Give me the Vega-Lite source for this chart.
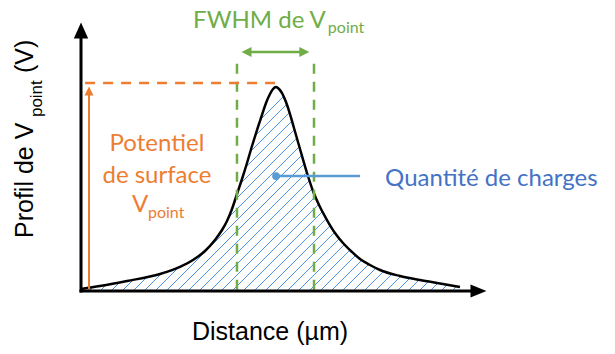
{
  "$schema": "https://vega.github.io/schema/vega-lite/v6.json",
  "width": 406,
  "height": 268,
  "autosize": {"type": "none"},
  "padding": {"left": 81, "top": 23, "right": 128, "bottom": 63},
  "background": "white",
  "config": {"view": {"stroke": null}},
  "datasets": {
    "curve": [
      {"x": 0, "y": 0.75}, {"x": 4.68, "y": 1.87}, {"x": 11.33, "y": 3.73}, {"x": 19.46, "y": 6.34},
      {"x": 24.38, "y": 8.96}, {"x": 27.59, "y": 11.57}, {"x": 30.54, "y": 14.93}, {"x": 33.0, "y": 19.03},
      {"x": 34.73, "y": 22.76}, {"x": 35.96, "y": 26.12}, {"x": 37.19, "y": 30.6}, {"x": 38.42, "y": 36.19},
      {"x": 39.66, "y": 41.79}, {"x": 40.89, "y": 47.76}, {"x": 42.12, "y": 54.1}, {"x": 43.35, "y": 60.07},
      {"x": 44.58, "y": 65.67}, {"x": 45.57, "y": 70.15}, {"x": 46.55, "y": 73.51}, {"x": 47.29, "y": 75.37},
      {"x": 48.03, "y": 76.12}, {"x": 48.77, "y": 75.37}, {"x": 49.51, "y": 73.88}, {"x": 50.49, "y": 70.52},
      {"x": 51.48, "y": 66.04}, {"x": 52.46, "y": 60.82}, {"x": 53.94, "y": 52.99}, {"x": 55.67, "y": 44.03},
      {"x": 57.14, "y": 37.31}, {"x": 58.87, "y": 31.34}, {"x": 60.59, "y": 26.49}, {"x": 62.56, "y": 21.64},
      {"x": 64.53, "y": 17.91}, {"x": 66.75, "y": 14.55}, {"x": 68.72, "y": 11.94}, {"x": 71.18, "y": 9.7},
      {"x": 73.65, "y": 7.84}, {"x": 78.57, "y": 5.6}, {"x": 83.5, "y": 4.1}, {"x": 88.42, "y": 2.8},
      {"x": 93.35, "y": 1.49}
    ],
    "hatch": [
      {"x": 1.97, "y": 0, "x2": 53.45, "y2": 78}, {"x": 4.68, "y": 0, "x2": 56.16, "y2": 78},
      {"x": 7.39, "y": 0, "x2": 58.87, "y2": 78}, {"x": 10.10, "y": 0, "x2": 61.58, "y2": 78},
      {"x": 12.81, "y": 0, "x2": 64.29, "y2": 78}, {"x": 15.52, "y": 0, "x2": 67.00, "y2": 78},
      {"x": 18.23, "y": 0, "x2": 69.71, "y2": 78}, {"x": 20.94, "y": 0, "x2": 72.42, "y2": 78},
      {"x": 23.65, "y": 0, "x2": 75.13, "y2": 78}, {"x": 26.35, "y": 0, "x2": 77.83, "y2": 78},
      {"x": 29.06, "y": 0, "x2": 80.54, "y2": 78}, {"x": 31.77, "y": 0, "x2": 83.25, "y2": 78},
      {"x": 34.48, "y": 0, "x2": 85.96, "y2": 78}, {"x": 37.19, "y": 0, "x2": 88.67, "y2": 78},
      {"x": 39.90, "y": 0, "x2": 91.38, "y2": 78}, {"x": 42.61, "y": 0, "x2": 93.3, "y2": 76.87},
      {"x": 45.32, "y": 0, "x2": 93.3, "y2": 72.76}, {"x": 48.03, "y": 0, "x2": 93.3, "y2": 68.66},
      {"x": 50.74, "y": 0, "x2": 93.3, "y2": 64.55}, {"x": 53.45, "y": 0, "x2": 93.3, "y2": 60.45},
      {"x": 56.16, "y": 0, "x2": 93.3, "y2": 56.34}, {"x": 58.87, "y": 0, "x2": 93.3, "y2": 52.24},
      {"x": 61.58, "y": 0, "x2": 93.3, "y2": 48.13}, {"x": 64.29, "y": 0, "x2": 93.3, "y2": 44.03},
      {"x": 67.00, "y": 0, "x2": 93.3, "y2": 39.93}, {"x": 69.70, "y": 0, "x2": 93.3, "y2": 35.82},
      {"x": 72.41, "y": 0, "x2": 93.3, "y2": 31.72}, {"x": 75.12, "y": 0, "x2": 93.3, "y2": 27.61},
      {"x": 77.83, "y": 0, "x2": 93.3, "y2": 23.51}, {"x": 80.54, "y": 0, "x2": 93.3, "y2": 19.40},
      {"x": 83.25, "y": 0, "x2": 93.3, "y2": 15.30}, {"x": 85.96, "y": 0, "x2": 93.3, "y2": 11.19},
      {"x": 88.67, "y": 0, "x2": 93.3, "y2": 7.09}, {"x": 91.38, "y": 0, "x2": 93.3, "y2": 2.99}
    ]
  },
  "encoding": {
    "x": {"field": "x", "type": "quantitative", "scale": {"domain": [0, 100], "nice": false, "zero": false}, "axis": null},
    "y": {"field": "y", "type": "quantitative", "scale": {"domain": [0, 100], "nice": false, "zero": false}, "axis": null}
  },
  "layer": [
    {
      "data": {"name": "hatch"},
      "mark": {"type": "rule", "color": "#4a8fe2", "strokeWidth": 1},
      "encoding": {"x2": {"field": "x2"}, "y2": {"field": "y2"}}
    },
    {
      "data": {"name": "curve"},
      "mark": {"type": "area", "color": "white", "opacity": 1, "interpolate": "monotone"},
      "encoding": {"y2": {"datum": 100}}
    },
    {
      "data": {"name": "curve"},
      "mark": {"type": "line", "color": "black", "strokeWidth": 2.5, "interpolate": "monotone"},
      "encoding": {}
    },
    {
      "data": {"values": [{"x": 38.42, "y": 0.5, "x2": 38.42, "y2": 86.2}, {"x": 57.39, "y": 0.5, "x2": 57.39, "y2": 86.2}]},
      "mark": {"type": "rule", "color": "#70AD47", "strokeWidth": 2.5, "strokeDash": [10, 8]},
      "encoding": {"x2": {"field": "x2"}, "y2": {"field": "y2"}}
    },
    {
      "data": {"values": [{"x": 1, "y": 77.6, "x2": 47.8, "y2": 77.6}]},
      "mark": {"type": "rule", "color": "#ED7D31", "strokeWidth": 2.5, "strokeDash": [10, 8]},
      "encoding": {"x2": {"field": "x2"}, "y2": {"field": "y2"}}
    },
    {
      "data": {"values": [{"x": 1.97, "y": 0, "x2": 1.97, "y2": 74.0}]},
      "mark": {"type": "rule", "color": "#ED7D31", "strokeWidth": 2},
      "encoding": {"x2": {"field": "x2"}, "y2": {"field": "y2"}}
    },
    {
      "data": {"values": [{"x": 1.97, "y": 74.63}]},
      "mark": {"type": "point", "shape": "M-1,1L0,-1L1,1Z", "size": 81, "filled": true, "color": "#ED7D31", "opacity": 1}
    },
    {
      "data": {"values": [{"x": 40.77, "y": 89.2, "x2": 55.0, "y2": 89.2}]},
      "mark": {"type": "rule", "color": "#70AD47", "strokeWidth": 2.5},
      "encoding": {"x2": {"field": "x2"}, "y2": {"field": "y2"}}
    },
    {
      "data": {"values": [{"x": 40.77, "y": 89.2}]},
      "mark": {"type": "point", "shape": "M1,-1L-1,0L1,1Z", "size": 100, "filled": true, "color": "#70AD47", "opacity": 1}
    },
    {
      "data": {"values": [{"x": 55.0, "y": 89.2}]},
      "mark": {"type": "point", "shape": "M-1,-1L1,0L-1,1Z", "size": 100, "filled": true, "color": "#70AD47", "opacity": 1}
    },
    {
      "data": {"values": [{"x": 48.03, "y": 42.9, "x2": 68.72, "y2": 42.9}]},
      "mark": {"type": "rule", "color": "#5B9BD5", "strokeWidth": 2.5},
      "encoding": {"x2": {"field": "x2"}, "y2": {"field": "y2"}}
    },
    {
      "data": {"values": [{"x": 48.03, "y": 42.9}]},
      "mark": {"type": "point", "shape": "circle", "size": 60, "filled": true, "color": "#5B9BD5", "opacity": 1}
    },
    {
      "data": {"values": [{"x": 0, "y": 0, "x2": 97, "y2": 0}, {"x": 0, "y": 0, "x2": 0, "y2": 94.5}]},
      "mark": {"type": "rule", "color": "black", "strokeWidth": 3, "strokeCap": "square"},
      "encoding": {"x2": {"field": "x2"}, "y2": {"field": "y2"}}
    },
    {
      "data": {"values": [{"x": 97.9, "y": 0}]},
      "mark": {"type": "point", "shape": "M-1,-0.8L1,0L-1,0.8Z", "size": 256, "filled": true, "color": "black", "opacity": 1}
    },
    {
      "data": {"values": [{"x": 0, "y": 97.2}]},
      "mark": {"type": "point", "shape": "M-0.9,1L0,-1L0.9,1Z", "size": 256, "filled": true, "color": "black", "opacity": 1}
    },
    {
      "data": {"values": [{"x": -11.82, "y": 19.78, "text": "Profil de V"}, {"x": -11.82, "y": 81.3, "text": "(V)"}]},
      "mark": {"type": "text", "angle": 270, "align": "left", "baseline": "alphabetic", "font": "Liberation Sans", "fontSize": 25, "color": "black"},
      "encoding": {"text": {"field": "text"}}
    },
    {
      "data": {"values": [{"x": -9.6, "y": 64.9, "text": "point"}]},
      "mark": {"type": "text", "angle": 270, "align": "left", "baseline": "alphabetic", "font": "Liberation Sans", "fontSize": 17, "color": "black"},
      "encoding": {"text": {"field": "text"}}
    },
    {
      "data": {"values": [{"x": 46.55, "y": -18.3, "text": "Distance (µm)"}]},
      "mark": {"type": "text", "align": "center", "baseline": "alphabetic", "font": "Liberation Sans", "fontSize": 25, "color": "black"},
      "encoding": {"text": {"field": "text"}}
    },
    {
      "data": {"values": [{"x": 27.6, "y": 98.1, "text": "FWHM de V"}]},
      "mark": {"type": "text", "align": "left", "baseline": "alphabetic", "font": "Lato", "fontSize": 24, "color": "#70AD47"},
      "encoding": {"text": {"field": "text"}}
    },
    {
      "data": {"values": [{"x": 60.8, "y": 96.3, "text": "point"}]},
      "mark": {"type": "text", "align": "left", "baseline": "alphabetic", "font": "Lato", "fontSize": 16, "color": "#70AD47"},
      "encoding": {"text": {"field": "text"}}
    },
    {
      "data": {"values": [{"x": 18.7, "y": 52.35, "text": "Potentiel"}, {"x": 18.7, "y": 40.3, "text": "de surface"}]},
      "mark": {"type": "text", "align": "center", "baseline": "alphabetic", "font": "Lato", "fontSize": 24, "color": "#ED7D31"},
      "encoding": {"text": {"field": "text"}}
    },
    {
      "data": {"values": [{"x": 12.56, "y": 29.5, "text": "V"}]},
      "mark": {"type": "text", "align": "left", "baseline": "alphabetic", "font": "Lato", "fontSize": 24, "color": "#ED7D31"},
      "encoding": {"text": {"field": "text"}}
    },
    {
      "data": {"values": [{"x": 16.5, "y": 27.2, "text": "point"}]},
      "mark": {"type": "text", "align": "left", "baseline": "alphabetic", "font": "Lato", "fontSize": 16, "color": "#ED7D31"},
      "encoding": {"text": {"field": "text"}}
    },
    {
      "data": {"values": [{"x": 74.9, "y": 39.2, "text": "Quantité de charges"}]},
      "mark": {"type": "text", "align": "left", "baseline": "alphabetic", "font": "Lato", "fontSize": 24, "color": "#4472C4"},
      "encoding": {"text": {"field": "text"}}
    }
  ]
}
